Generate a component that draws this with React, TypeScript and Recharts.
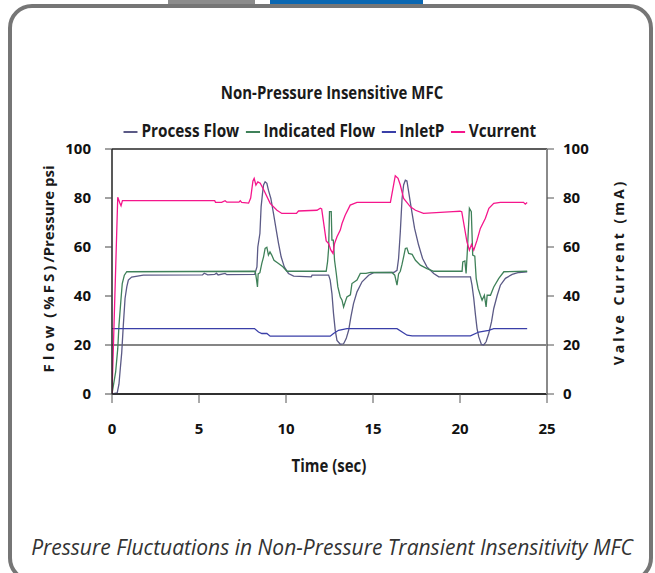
import React from "react";
import {
  LineChart,
  Line,
  XAxis,
  YAxis,
  CartesianGrid,
  ReferenceLine,
  Legend,
} from "recharts";

// time (sec), value pairs
const processFlow: [number, number][] = [
  [0, 0], [0.3, 0.5], [0.4, 4], [0.46, 9], [0.56, 17], [0.65, 28], [0.75, 39],
  [0.85, 43.7], [0.94, 46.5], [1.13, 47.7], [1.8, 48.5], [5.2, 48.6], [5.3, 49.3],
  [5.5, 48.6], [5.9, 48.8], [6.0, 49.3], [6.1, 48.6], [6.5, 49.2], [6.6, 48.7],
  [8.2, 48.8], [8.33, 51.9], [8.38, 60], [8.5, 65.5], [8.57, 76.4], [8.65, 81.9],
  [8.71, 85.3], [8.8, 86.6], [8.9, 86], [8.99, 83.2], [9.13, 79.8], [9.28, 73.7],
  [9.44, 66.9], [9.57, 61.5], [9.72, 56], [9.9, 51.9], [10.14, 49.2], [10.44, 48.1],
  [11.45, 47.8], [11.5, 48.5], [12.45, 48.5], [12.54, 46.5], [12.64, 41], [12.73, 32.9],
  [12.83, 26], [12.93, 21.9], [13.12, 20.3], [13.31, 20.5], [13.46, 22.6], [13.6, 26],
  [13.73, 31.5], [13.88, 36.9], [14.08, 41.7], [14.37, 45.8], [14.75, 48.5], [15.04, 49.5],
  [16.19, 49.6], [16.38, 50.5], [16.47, 55.3], [16.57, 66.2], [16.67, 79.8], [16.76, 85.3],
  [16.86, 87.3], [16.95, 87], [17.05, 82.5], [17.2, 75.8], [17.39, 67.6], [17.62, 60.8],
  [17.85, 55.3], [18.1, 51.9], [18.49, 49.2], [18.78, 47.8], [20.6, 47.8], [20.69, 44.4],
  [20.79, 39], [20.89, 32.2], [20.98, 26.7], [21.08, 23.3], [21.23, 20.2], [21.36, 20],
  [21.5, 21.3], [21.65, 24.7], [21.81, 29.4], [21.94, 34.9], [22.14, 40.3], [22.32, 44.4],
  [22.61, 47.2], [23.0, 48.8], [23.38, 49.6], [23.86, 49.9],
];

const indicatedFlow: [number, number][] = [
  [0, 0], [0.21, 9], [0.33, 18.5], [0.4, 28], [0.52, 39], [0.59, 45.1], [0.71, 48.5],
  [0.85, 49.9], [8.23, 50.1], [8.3, 47], [8.36, 43.7], [8.4, 49], [8.5, 49.5],
  [8.61, 53.3], [8.71, 56], [8.8, 59.4], [8.9, 59.9], [8.99, 56.7], [9.08, 58],
  [9.18, 56.7], [9.31, 54.6], [9.57, 53.3], [9.82, 51.9], [10.05, 50.1], [12.31, 50.1],
  [12.39, 54], [12.45, 59.4], [12.5, 74.4], [12.6, 74.4], [12.64, 62.8], [12.72, 62.8],
  [12.79, 54.6], [12.89, 49.2], [12.98, 43.7], [13.12, 39.6], [13.22, 38.3], [13.31, 35.5],
  [13.4, 37.5], [13.5, 39.6], [13.7, 40.5], [13.79, 45.1], [14.08, 46.5], [14.27, 49.2],
  [14.6, 49.2], [14.85, 49.6], [16.09, 49.6], [16.25, 48.5], [16.38, 44.4], [16.47, 49],
  [16.57, 50.1], [16.67, 53], [16.76, 56], [16.86, 59.4], [16.95, 59.6], [17.05, 57.4],
  [17.25, 57], [17.44, 54.6], [17.72, 52.6], [18.1, 51.2], [18.49, 50.1], [20.12, 50.1],
  [20.16, 53.9], [20.28, 54.3], [20.35, 49.2], [20.43, 59.4], [20.54, 75.8], [20.65, 74.4],
  [20.73, 56.7], [20.85, 56.3], [20.93, 47.2], [21.04, 43.1], [21.17, 40.3], [21.27, 38.3],
  [21.4, 40.3], [21.5, 35.5], [21.56, 40.3], [21.75, 40.3], [21.94, 43.7], [22.23, 47.2],
  [22.52, 49.9], [23.86, 50.1],
];

const inletP: [number, number][] = [
  [0, 26.7], [8.19, 26.7], [8.42, 25.3], [8.61, 24.7], [8.9, 24.7], [9.09, 23.6],
  [12.54, 23.6], [12.73, 24.7], [13.02, 26], [13.5, 26.7], [16.38, 26.7], [16.96, 24],
  [17.25, 23.7], [20.6, 23.7], [21.08, 25.3], [21.65, 26], [21.94, 26.7], [23.86, 26.7],
];

const vCurrent: [number, number][] = [
  [0, 0], [0.33, 80.3], [0.45, 78], [0.52, 76.8], [0.6, 78.9], [5.9, 78.9], [5.95, 78.2],
  [6.3, 78.2], [6.5, 78.9], [6.6, 78.3], [7.3, 78.3], [7.37, 78.9], [7.45, 78.2],
  [7.85, 77.9], [7.97, 80], [8.1, 87], [8.17, 88], [8.27, 85.3], [8.38, 86.6], [8.52, 86],
  [8.71, 83.5], [9.09, 77.8], [9.48, 75], [9.76, 73.7], [10.6, 73.7], [10.72, 74.7],
  [11.78, 75], [11.97, 75.8], [12.05, 75.5], [12.31, 62.5], [12.45, 61.4], [12.58, 58.7],
  [12.7, 57.4], [12.79, 61.4], [12.93, 64.2], [13.12, 66.9], [13.22, 69.6], [13.4, 73],
  [13.69, 77.1], [14.08, 78.2], [16.0, 78.2], [16.2, 86], [16.28, 89.1], [16.44, 88],
  [16.57, 85.3], [16.76, 79.8], [17.15, 76.4], [17.44, 75], [17.9, 73.7], [19.6, 74.4],
  [20.0, 74.6], [20.1, 74.4], [20.4, 62.1], [20.54, 58.7], [20.66, 61], [20.79, 58.7],
  [20.98, 62.8], [21.17, 67.6], [21.46, 71.7], [21.66, 75.8], [21.94, 77.8], [22.32, 78.2],
  [23.65, 78.2], [23.75, 77.5], [23.86, 78.2],
];

const seriesNames = ["Process Flow", "Indicated Flow", "InletP", "Vcurrent"];
const timeTicks = [0, 5, 10, 15, 20, 25];
const valueTicks = [0, 20, 40, 60, 80, 100];

const toRows = (pts: [number, number][]) => pts.map(([t, v]) => ({ t, v }));

const SANS = '"Open Sans", "Noto Sans", sans-serif';

const tickStyle = { fill: "#111", fontSize: 15, fontWeight: 700, fontFamily: SANS };

// no condensed face installed, so squeeze the bold text a little
const condensed = (sx = 0.88) => ({
  fontFamily: SANS,
  fontWeight: 700,
  color: "#1a1a1a",
  transform: `scaleX(${sx})`,
  transformOrigin: "center",
});

export default function App() {
  return (
    <div style={{ position: "relative", width: 655, height: 573, overflow: "hidden", background: "#fff" }}>
      <style>{`body{margin:0} .recharts-legend-item{margin-right:7px !important}`}</style>

      {/* tabs + rounded frame */}
      <div style={{ position: "absolute", left: 168, top: 0, width: 87, height: 6, background: "#8c8c8c" }} />
      <div style={{ position: "absolute", left: 270, top: 0, width: 153, height: 6, background: "#0a67b2" }} />
      <div
        style={{
          position: "absolute",
          left: 8,
          top: 4,
          width: 637,
          height: 570,
          border: "4px solid #767676",
          borderRadius: 24,
        }}
      />

      <div
        style={{
          position: "absolute",
          top: 81,
          left: 0,
          width: 664,
          textAlign: "center",
          fontSize: 17,
          ...condensed(0.88),
        }}
      >
        Non-Pressure Insensitive MFC
      </div>

      <LineChart
        width={655}
        height={573}
        margin={{ top: 149, right: 48, left: 52, bottom: 149 }}
        style={{ position: "absolute", left: 0, top: 0 }}
      >
        <CartesianGrid vertical={false} stroke="#262626" strokeWidth={1.5} />
        <ReferenceLine yAxisId="left" y={20} stroke="#858585" strokeWidth={2.2} />
        <XAxis
          type="number"
          dataKey="t"
          domain={[0, 25]}
          ticks={timeTicks}
          height={30}
          tickSize={9}
          tickMargin={20}
          axisLine={{ stroke: "#222", strokeWidth: 1.5 }}
          tickLine={{ stroke: "#555" }}
          tick={tickStyle}
          allowDataOverflow
        />
        <YAxis
          yAxisId="left"
          domain={[0, 100]}
          ticks={valueTicks}
          width={60}
          tickSize={7}
          tickMargin={14}
          axisLine={{ stroke: "#222", strokeWidth: 1.5 }}
          tickLine={{ stroke: "#444" }}
          tick={tickStyle}
        />
        <YAxis
          yAxisId="right"
          orientation="right"
          domain={[0, 100]}
          ticks={valueTicks}
          width={60}
          tickSize={7}
          tickMargin={9}
          axisLine={{ stroke: "#8a8a8a", strokeWidth: 2 }}
          tickLine={{ stroke: "#555" }}
          tick={tickStyle}
        />
        <Legend
          verticalAlign="middle"
          align="center"
          iconType="plainline"
          iconSize={16}
          itemSorter={(item: any) => seriesNames.indexOf(item.value)}
          wrapperStyle={{
            top: 119,
            left: 0,
            width: 666,
            fontSize: 17,
            ...condensed(0.9),
          }}
          formatter={(value) => <span style={{ color: "#1a1a1a" }}>{value}</span>}
        />
        <Line
          yAxisId="left"
          name={seriesNames[0]}
          data={toRows(processFlow)}
          dataKey="v"
          type="linear"
          stroke="#5b5a86"
          strokeWidth={1.3}
          dot={false}
          isAnimationActive={false}
        />
        <Line
          yAxisId="left"
          name={seriesNames[1]}
          data={toRows(indicatedFlow)}
          dataKey="v"
          type="linear"
          stroke="#3f8159"
          strokeWidth={1.3}
          dot={false}
          isAnimationActive={false}
        />
        <Line
          yAxisId="left"
          name={seriesNames[2]}
          data={toRows(inletP)}
          dataKey="v"
          type="linear"
          stroke="#3a3fa8"
          strokeWidth={1.3}
          dot={false}
          isAnimationActive={false}
        />
        <Line
          yAxisId="right"
          name={seriesNames[3]}
          data={toRows(vCurrent)}
          dataKey="v"
          type="linear"
          stroke="#f5168c"
          strokeWidth={1.3}
          dot={false}
          isAnimationActive={false}
        />
      </LineChart>

      {/* axis titles */}
      <div
        style={{
          position: "absolute",
          left: 48,
          top: 269,
          transform: "translate(-50%, -50%) rotate(-90deg)",
          whiteSpace: "nowrap",
          fontFamily: SANS,
          fontWeight: 700,
          fontSize: 15,
          color: "#1a1a1a",
        }}
      >
        <span style={{ letterSpacing: 4 }}>Flow</span>{" "}
        <span style={{ letterSpacing: 3 }}>(%FS)</span>/Pressure psi
      </div>
      <div
        style={{
          position: "absolute",
          left: 618,
          top: 272,
          transform: "translate(-50%, -50%) rotate(-90deg)",
          whiteSpace: "nowrap",
          fontFamily: SANS,
          fontWeight: 700,
          fontSize: 14,
          letterSpacing: 3,
          color: "#1a1a1a",
        }}
      >
        Valve Current (mA)
      </div>
      <div
        style={{
          position: "absolute",
          top: 454,
          left: 0,
          width: 658,
          textAlign: "center",
          fontSize: 17,
          ...condensed(0.88),
        }}
      >
        Time (sec)
      </div>

      <div
        style={{
          position: "absolute",
          top: 533,
          left: 0,
          width: 664,
          textAlign: "center",
          fontFamily: SANS,
          fontStyle: "italic",
          fontSize: 21,
          color: "#333",
          whiteSpace: "nowrap",
        }}
      >
        Pressure Fluctuations in Non-Pressure Transient Insensitivity MFC
      </div>
    </div>
  );
}
